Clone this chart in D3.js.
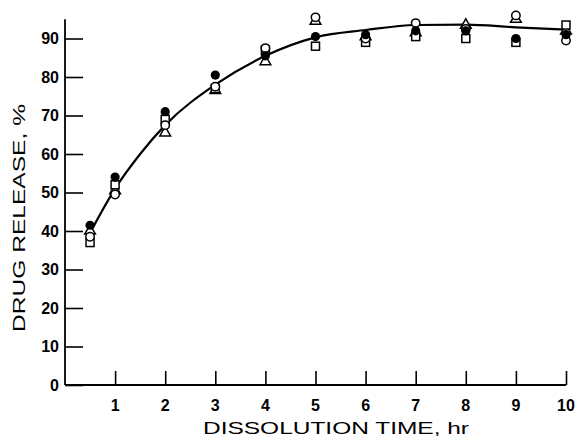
<!DOCTYPE html>
<html>
<head>
<meta charset="utf-8">
<script src="https://cdn.jsdelivr.net/npm/d3@7"></script>
<style>
  body { margin: 0; background: #fff; }
  text { font-family: "Liberation Sans", Arial, sans-serif; fill: #000; }
</style>
</head>
<body>
<div id="grafica"></div>
<script>
// dissolution times (hr)
var times = [0.5, 1, 2, 3, 4, 5, 6, 7, 8, 9, 10];

// four batches
var filledCircle = [41.5, 54, 71, 80.5, 85.5, 90.5, 91, 92, 92, 90, 91];
var openCircle   = [38.5, 49.5, 67.5, 77.5, 87.5, 95.5, 90, 94, 92.5, 96, 89.5];
var openSquare   = [37, 52, 69, 77, 87, 88, 89, 90.5, 90, 89, 93.5];
var openTriangle = [40, 50.5, 65.5, 76.5, 84, 94.5, 90.5, 91.5, 93.5, 95, 92];

// smooth fitted curve
var curveTimes  = [0.5, 1, 1.5, 2, 3, 4, 5, 6, 7, 8, 9, 10];
var curveValues = [39.5, 51, 60, 67.5, 78, 85.5, 90.3, 92.2, 93.5, 93.6, 92.9, 92.3];

var xTicks = [1, 2, 3, 4, 5, 6, 7, 8, 9, 10];
var yTicks = [0, 10, 20, 30, 40, 50, 60, 70, 80, 90];

var width = 576, height = 438;

var svg = d3.select("#grafica")
    .append("svg")
    .attr("width", width)
    .attr("height", height);

var x = d3.scaleLinear().domain([0, 10]).range([65, 566]);
var y = d3.scaleLinear().domain([0, 90]).range([385, 38.5]);

// axes
var yAxis = d3.axisRight(y).tickValues(yTicks).tickSize(18).tickFormat("");
var gy = svg.append("g").attr("transform", "translate(" + x(0) + ",0)").call(yAxis);
gy.select(".domain").remove();
gy.selectAll("line").attr("stroke", "#000").attr("stroke-width", 1.6);

var xAxis = d3.axisTop(x).tickValues(xTicks).tickSize(14).tickFormat("");
var gx = svg.append("g").attr("transform", "translate(0," + y(0) + ")").call(xAxis);
gx.select(".domain").remove();
gx.selectAll("line").attr("stroke", "#000").attr("stroke-width", 1.6);

svg.append("line")
    .attr("x1", x(0)).attr("x2", x(0))
    .attr("y1", y(0)).attr("y2", y(95))
    .attr("stroke", "#000").attr("stroke-width", 1.8);
svg.append("line")
    .attr("x1", x(0)).attr("x2", x(10))
    .attr("y1", y(0)).attr("y2", y(0))
    .attr("stroke", "#000").attr("stroke-width", 1.8);

// tick labels
svg.selectAll(".ylab")
    .data(yTicks)
    .enter()
    .append("text")
    .attr("x", 59)
    .attr("y", function(d) { return y(d) + 5.5; })
    .attr("text-anchor", "end")
    .style("font-size", "16px")
    .style("font-weight", "bold")
    .text(function(d) { return d; });

svg.selectAll(".xlab")
    .data(xTicks)
    .enter()
    .append("text")
    .attr("x", function(d) { return x(d); })
    .attr("y", 411)
    .attr("text-anchor", "middle")
    .style("font-size", "16px")
    .style("font-weight", "bold")
    .text(function(d) { return d; });

// axis titles
svg.append("text")
    .attr("x", 203)
    .attr("y", 434)
    .attr("textLength", 266)
    .attr("lengthAdjust", "spacingAndGlyphs")
    .style("font-size", "17px")
    .text("DISSOLUTION TIME, hr");

svg.append("text")
    .attr("transform", "translate(25,332) rotate(-90)")
    .attr("textLength", 228)
    .attr("lengthAdjust", "spacingAndGlyphs")
    .style("font-size", "17px")
    .text("DRUG RELEASE, %");

// fitted curve
var line = d3.line()
    .x(function(d, i) { return x(curveTimes[i]); })
    .y(function(d) { return y(d); })
    .curve(d3.curveMonotoneX);

svg.append("path")
    .datum(curveValues)
    .attr("d", line)
    .attr("fill", "none")
    .attr("stroke", "#000")
    .attr("stroke-width", 2.2);

// markers
function pts(vals) {
    return vals.map(function(v, i) { return { t: times[i], v: v }; });
}

svg.selectAll(".tri")
    .data(pts(openTriangle))
    .enter()
    .append("path")
    .attr("d", d3.symbol().type(d3.symbolTriangle).size(50))
    .attr("transform", function(d) { return "translate(" + x(d.t) + "," + y(d.v) + ")"; })
    .attr("fill", "#fff").attr("stroke", "#000").attr("stroke-width", 1.5);

svg.selectAll(".sq")
    .data(pts(openSquare))
    .enter()
    .append("rect")
    .attr("x", function(d) { return x(d.t) - 4; })
    .attr("y", function(d) { return y(d.v) - 4; })
    .attr("width", 8).attr("height", 8)
    .attr("fill", "#fff").attr("stroke", "#000").attr("stroke-width", 1.5);

svg.selectAll(".oc")
    .data(pts(openCircle))
    .enter()
    .append("circle")
    .attr("cx", function(d) { return x(d.t); })
    .attr("cy", function(d) { return y(d.v); })
    .attr("r", 4.2)
    .attr("fill", "#fff").attr("stroke", "#000").attr("stroke-width", 1.5);

svg.selectAll(".fc")
    .data(pts(filledCircle))
    .enter()
    .append("circle")
    .attr("cx", function(d) { return x(d.t); })
    .attr("cy", function(d) { return y(d.v); })
    .attr("r", 4.6)
    .attr("fill", "#000");
</script>
</body>
</html>
